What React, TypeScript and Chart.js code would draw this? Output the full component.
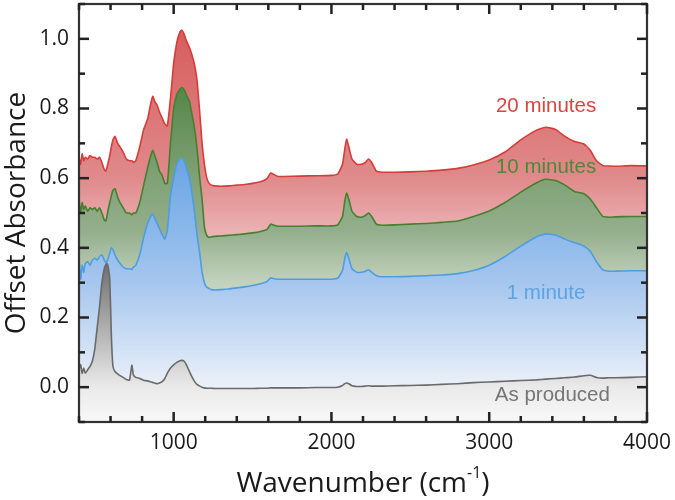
import React, { useEffect, useRef } from 'react';
import { Chart, registerables } from 'chart.js';

Chart.register(...registerables);

// Wavenumber grid (cm-1)
const WAVENUMBER = [
  400, 410, 420, 430, 440, 455, 470, 485, 500, 515,
  530, 545, 560, 570, 577, 585, 595, 605, 615, 628,
  645, 660, 680, 700, 720, 735, 745, 760, 785, 810,
  835, 855, 868, 880, 895, 910, 925, 944, 960, 980,
  1000, 1020, 1040, 1052, 1065, 1080, 1100, 1115, 1130, 1147,
  1165, 1180, 1195, 1210, 1225, 1240, 1260, 1300, 1350, 1400,
  1450, 1500, 1550, 1590, 1615, 1630, 1660, 1700, 1800, 1900,
  2000, 2040, 2070, 2085, 2096, 2110, 2130, 2160, 2190, 2215,
  2235, 2255, 2285, 2320, 2400, 2500, 2600, 2700, 2800, 2900,
  3000, 3100, 3200, 3300, 3360, 3420, 3480, 3540, 3600, 3640,
  3680, 3720, 3760, 3800, 3900, 4000,
];

const MIN_20 = [
  0.66, 0.64, 0.67, 0.65, 0.66, 0.655, 0.665, 0.66, 0.66, 0.655,
  0.66, 0.645, 0.625, 0.62, 0.63, 0.645, 0.665, 0.69, 0.71, 0.72,
  0.70, 0.69, 0.675, 0.655, 0.65, 0.65, 0.645, 0.65, 0.69, 0.74,
  0.77, 0.815, 0.835, 0.82, 0.81, 0.79, 0.775, 0.755, 0.75, 0.83,
  0.93, 0.99, 1.02, 1.025, 1.015, 0.995, 0.975, 0.955, 0.93, 0.885,
  0.79, 0.70, 0.64, 0.60, 0.585, 0.58, 0.578, 0.577, 0.578, 0.58,
  0.582, 0.585, 0.59, 0.598, 0.615, 0.612, 0.605, 0.605, 0.606, 0.607,
  0.608, 0.612, 0.64, 0.685, 0.712, 0.69, 0.655, 0.64, 0.64, 0.645,
  0.655, 0.645, 0.62, 0.617, 0.617, 0.618, 0.62, 0.623, 0.628, 0.638,
  0.652, 0.675, 0.71, 0.738, 0.746, 0.74, 0.72, 0.705, 0.698, 0.68,
  0.65, 0.636, 0.635, 0.634, 0.636, 0.635,
];

const MIN_10 = [
  0.54, 0.50, 0.53, 0.51, 0.52, 0.505, 0.515, 0.51, 0.515, 0.505,
  0.515, 0.50, 0.48, 0.477, 0.49, 0.51, 0.53, 0.55, 0.565, 0.57,
  0.545, 0.53, 0.515, 0.50, 0.50, 0.495, 0.50, 0.50, 0.53, 0.58,
  0.63, 0.665, 0.68, 0.665, 0.645, 0.62, 0.61, 0.585, 0.585, 0.70,
  0.80, 0.84, 0.855, 0.86, 0.855, 0.84, 0.82, 0.785, 0.75, 0.69,
  0.60, 0.54, 0.46, 0.435, 0.43, 0.432, 0.433, 0.434, 0.436, 0.438,
  0.44, 0.443, 0.447, 0.452, 0.468, 0.466, 0.462, 0.462, 0.462, 0.463,
  0.463, 0.466, 0.49, 0.535, 0.557, 0.54, 0.505, 0.49, 0.488, 0.493,
  0.50, 0.49, 0.468, 0.465, 0.466, 0.468, 0.47, 0.473, 0.477, 0.49,
  0.506, 0.53, 0.56, 0.587, 0.597, 0.593, 0.58, 0.562, 0.555, 0.54,
  0.515, 0.49, 0.488, 0.489, 0.49, 0.49,
];

const MIN_1 = [
  0.37, 0.31, 0.35, 0.33, 0.355, 0.36, 0.35, 0.365, 0.37, 0.365,
  0.375, 0.38, 0.365, 0.358, 0.36, 0.37, 0.385, 0.40, 0.395, 0.38,
  0.365, 0.355, 0.345, 0.34, 0.34, 0.338, 0.345, 0.35, 0.38, 0.43,
  0.47, 0.49, 0.497, 0.485, 0.47, 0.455, 0.44, 0.425, 0.45, 0.55,
  0.60, 0.64, 0.655, 0.657, 0.65, 0.63, 0.60, 0.56, 0.51, 0.44,
  0.385, 0.33, 0.30, 0.287, 0.283, 0.28, 0.279, 0.28, 0.282, 0.285,
  0.288, 0.292, 0.297, 0.303, 0.314, 0.312, 0.31, 0.31, 0.31, 0.31,
  0.31, 0.313, 0.335, 0.37, 0.387, 0.37, 0.34, 0.33, 0.33, 0.333,
  0.337, 0.33, 0.32, 0.317, 0.317, 0.318, 0.32, 0.322, 0.326, 0.335,
  0.35, 0.375, 0.405, 0.432, 0.44, 0.437, 0.425, 0.415, 0.405, 0.39,
  0.36, 0.337, 0.333, 0.333, 0.334, 0.334,
];

const AS_PRODUCED = [
  0.05, 0.065, 0.04, 0.055, 0.04, 0.05, 0.06, 0.075, 0.11, 0.17,
  0.23, 0.30, 0.34, 0.352, 0.355, 0.345, 0.31, 0.15, 0.06, 0.045,
  0.038, 0.033, 0.028, 0.022, 0.02, 0.063, 0.035, 0.028, 0.025, 0.02,
  0.018, 0.015, 0.013, 0.012, 0.01, 0.012, 0.015, 0.025, 0.04, 0.055,
  0.064, 0.071, 0.076, 0.077, 0.075, 0.065, 0.045, 0.03, 0.018, 0.008,
  0.003, 0.0, -0.002, -0.003, -0.003, -0.003, -0.004, -0.004, -0.004, -0.004,
  -0.004, -0.004, -0.003, -0.003, -0.002, -0.002, -0.002, -0.002, -0.002, -0.001,
  -0.001, 0.0, 0.005, 0.01, 0.012, 0.01, 0.004, 0.002, 0.002, 0.003,
  0.004, 0.003, 0.003, 0.003, 0.004, 0.005, 0.006, 0.008, 0.01, 0.013,
  0.015, 0.017, 0.019, 0.021, 0.023, 0.025, 0.027, 0.029, 0.033, 0.034,
  0.028, 0.026, 0.027, 0.027, 0.028, 0.03,
];

const X_TICKS = [1000, 2000, 3000, 4000];
const Y_TICKS = [0, 0.2, 0.4, 0.6, 0.8, 1.0];
const X_MINOR_STEP = 200;
const Y_MINOR_STEP = 0.1;
const X_MIN = 400;
const X_MAX = 4000;
const Y_MIN = -0.1;
const Y_MAX = 1.1;

const SERIES_LABELS = ['20 minutes', '10 minutes', '1 minute', 'As produced'];
// label anchor positions (data coordinates)
const LABEL_X = [3360, 3360, 3360, 3400];
const LABEL_Y = [0.806, 0.631, 0.269, -0.023];

const LINE_COLORS = ['#d63c3a', '#44802f', '#4d9de2', '#6a6a6a'];
const TEXT_COLORS = ['#d8443e', '#4a8a38', '#5ba3e4', '#767676'];
// gradient stops [value, color]
const FILL_STOPS: [number, string][][] = [
  [[1.05, '#d65a5a'], [0.6, '#e08a8b'], [0.45, '#ebb1b3'], [-0.1, '#fbeeee']],
  [[0.86, '#55864a'], [0.6, '#80a275'], [0.45, '#93ae8c'], [0.3, '#c3d2bd'], [-0.1, '#eef3ec']],
  [[0.66, '#6aa4e4'], [0.45, '#8ab8ea'], [0.3, '#a6c6ee'], [0.1, '#d4e3f6'], [0.0, '#ecf1f8'], [-0.1, '#f8f9fb']],
  [[0.36, '#6c6c6c'], [0.2, '#a4a4a4'], [0.05, '#d9d9d9'], [0.0, '#eaeaea'], [-0.1, '#f8f8f8']],
];

const FONT_FAMILY = '"Open Sans", "Noto Sans", sans-serif';
const LABEL_FONT = '"Liberation Sans", Arial, sans-serif';

export default function App() {
  const canvasRef = useRef<HTMLCanvasElement>(null);

  useEffect(() => {
    document.body.style.margin = '0';
    const canvas = canvasRef.current;
    if (!canvas) return;

    const makeFill = (idx: number) => (ctx: any) => {
      const chart = ctx.chart;
      const area = chart.chartArea;
      if (!area) return 'rgba(0,0,0,0)';
      const g = chart.ctx.createLinearGradient(0, area.top, 0, area.bottom);
      for (const [v, c] of FILL_STOPS[idx]) {
        const off = Math.min(1, Math.max(0, (Y_MAX - v) / (Y_MAX - Y_MIN)));
        g.addColorStop(off, c);
      }
      return g;
    };

    const seriesValues = [MIN_20, MIN_10, MIN_1, AS_PRODUCED];

    const datasets = seriesValues.map((vals, i) => ({
      label: SERIES_LABELS[i],
      data: WAVENUMBER.map((x, j) => ({ x, y: vals[j] })),
      borderColor: LINE_COLORS[i],
      borderWidth: 1.6,
      backgroundColor: makeFill(i),
      fill: 'start',
      pointRadius: 0,
      tension: 0.15,
      order: 4 - i,
    }));

    const decorPlugin = {
      id: 'decor',
      afterDraw(chart: any) {
        const ctx: CanvasRenderingContext2D = chart.ctx;
        const a = chart.chartArea;
        const xs = chart.scales.x;
        const ys = chart.scales.y;
        ctx.save();
        ctx.setLineDash([]);
        ctx.globalAlpha = 1;
        ctx.globalCompositeOperation = 'source-over';
        // frame
        ctx.lineWidth = 2.2;
        ctx.strokeStyle = '#333333';
        ctx.strokeRect(a.left, a.top, a.right - a.left, a.bottom - a.top);
        // tick marks (inward, on all four sides)
        ctx.fillStyle = '#222222';
        const nx = Math.round((X_MAX - X_MIN) / X_MINOR_STEP);
        for (let i = 0; i <= nx; i++) {
          const v = X_MIN + i * X_MINOR_STEP;
          const px = xs.getPixelForValue(v);
          const len = v % 1000 === 0 ? 10 : 6;
          ctx.fillRect(px - 1.25, a.bottom - len, 2.5, len);
          ctx.fillRect(px - 1.25, a.top, 2.5, len);
        }
        const ny = Math.round((Y_MAX - Y_MIN) / Y_MINOR_STEP);
        for (let i = 0; i <= ny; i++) {
          const v = Y_MIN + i * Y_MINOR_STEP;
          const py = ys.getPixelForValue(v);
          const major = Math.abs(Math.round(v * 10)) % 2 === 0;
          const len = major ? 10 : 6;
          ctx.fillRect(a.left, py - 1.25, len, 2.5);
          ctx.fillRect(a.right - len, py - 1.25, len, 2.5);
        }

        // series labels
        ctx.textAlign = 'center';
        ctx.textBaseline = 'middle';
        ctx.font = `20.5px ${LABEL_FONT}`;
        SERIES_LABELS.forEach((t, i) => {
          ctx.fillStyle = TEXT_COLORS[i];
          ctx.fillText(t, xs.getPixelForValue(LABEL_X[i]), ys.getPixelForValue(LABEL_Y[i]));
        });

        // y title
        ctx.fillStyle = '#1a1a1a';
        ctx.font = `28px ${FONT_FAMILY}`;
        ctx.save();
        ctx.translate(17, (a.top + a.bottom) / 2);
        ctx.rotate(-Math.PI / 2);
        ctx.textAlign = 'center';
        ctx.textBaseline = 'middle';
        ctx.fillText('Offset Absorbance', 0, 0);
        ctx.restore();

        // x title with superscript
        const main = 'Wavenumber (cm';
        const sup = '-1';
        const close = ')';
        ctx.font = `28px ${FONT_FAMILY}`;
        const wMain = ctx.measureText(main).width;
        const wClose = ctx.measureText(close).width;
        ctx.font = `16px ${FONT_FAMILY}`;
        const wSup = ctx.measureText(sup).width;
        const total = wMain + wSup + wClose;
        let x0 = (a.left + a.right) / 2 - total / 2;
        const base = 492;
        ctx.textAlign = 'left';
        ctx.textBaseline = 'alphabetic';
        ctx.font = `28px ${FONT_FAMILY}`;
        ctx.fillText(main, x0, base);
        x0 += wMain;
        ctx.font = `16px ${FONT_FAMILY}`;
        ctx.fillText(sup, x0, base - 14);
        x0 += wSup;
        ctx.font = `28px ${FONT_FAMILY}`;
        ctx.fillText(close, x0, base);
        ctx.restore();
      },
    };

    const chart = new Chart(canvas, {
      type: 'line',
      data: { datasets: datasets as any },
      options: {
        animation: false,
        responsive: false,
        maintainAspectRatio: false,
        layout: { padding: { top: 4, right: 28, left: 0, bottom: 0 } },
        plugins: {
          legend: { display: false },
          tooltip: { enabled: false },
        },
        scales: {
          x: {
            type: 'linear',
            min: X_MIN,
            max: X_MAX,
            grid: { display: false, drawTicks: false },
            border: { display: false },
            afterBuildTicks: (s: any) => {
              s.ticks = X_TICKS.map((v) => ({ value: v }));
            },
            afterFit: (s: any) => {
              s.height = 78;
              s.paddingLeft = 0;
              s.paddingRight = 0;
            },
            ticks: {
              color: '#1a1a1a',
              padding: 8,
              maxRotation: 0,
              font: { family: FONT_FAMILY, size: 21 },
              callback: (v: any) => String(v),
            },
          },
          y: {
            type: 'linear',
            min: Y_MIN,
            max: Y_MAX,
            grid: { display: false, drawTicks: false },
            border: { display: false },
            afterBuildTicks: (s: any) => {
              s.ticks = Y_TICKS.map((v) => ({ value: v }));
            },
            afterFit: (s: any) => {
              s.width = 79;
              s.paddingTop = 0;
              s.paddingBottom = 0;
            },
            ticks: {
              color: '#1a1a1a',
              padding: 10,
              font: { family: FONT_FAMILY, size: 21 },
              callback: (v: any) => Number(v).toFixed(1),
            },
          },
        },
      },
      plugins: [decorPlugin],
    });

    return () => {
      chart.destroy();
    };
  }, []);

  return (
    <div style={{ width: 675, height: 500, position: 'relative', background: '#ffffff' }}>
      <canvas ref={canvasRef} width={675} height={500} />
    </div>
  );
}
